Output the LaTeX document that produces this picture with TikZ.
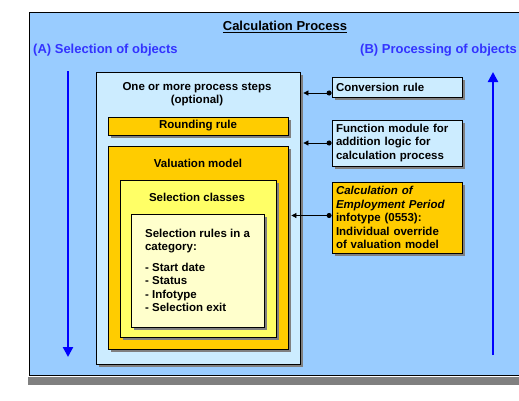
\documentclass[tikz,border=0pt]{standalone}
\usepackage{fontspec}
\setmainfont{Liberation Sans}
\usetikzlibrary{shapes,arrows.meta,positioning,calc,shadows}

\definecolor{skyblue}{RGB}{153,204,255}
\definecolor{paleblue}{RGB}{204,236,255}
\definecolor{gold}{RGB}{255,204,0}
\definecolor{lemon}{RGB}{255,255,102}
\definecolor{cream}{RGB}{255,255,204}
\definecolor{headblue}{RGB}{51,51,255}
\definecolor{flowblue}{RGB}{0,0,255}

\begin{document}
\begin{tikzpicture}[
    x=1pt, y=-1pt,
    every node/.style={font=\fontsize{11.5}{13.5}\selectfont\bfseries},
    boxshadow/.style={general shadow={fill=black!50, shadow xshift=3pt, shadow yshift=-3pt}},
    frame/.style={rectangle, draw=black, fill=skyblue, line width=0.8pt},
    stepbox/.style={rectangle, draw=black, fill=paleblue, line width=0.8pt, boxshadow},
    rulebox/.style={rectangle, draw=black, fill=gold, line width=0.8pt, boxshadow},
    classbox/.style={rectangle, draw=black, fill=lemon, line width=0.8pt, boxshadow},
    selbox/.style={rectangle, draw=black, fill=cream, line width=0.8pt, boxshadow, align=left},
    note/.style={rectangle, draw=black, line width=0.8pt, boxshadow, text width=122pt, inner xsep=4pt, inner ysep=0pt, align=left},
    heading/.style={font=\fontsize{13}{15}\selectfont\bfseries, text=headblue, anchor=west, inner sep=0pt},
    flow/.style={-{Triangle[length=10pt,width=10pt]}, line width=2.2pt, draw=flowblue},
    link/.style={{Circle[length=5pt]}-{Triangle[length=5pt,width=5pt]}, line width=0.8pt}
]
\path[use as bounding box, fill=white] (0,0) rectangle (519,400);

% Outer frame
\fill[black!50] (28,377) rectangle (530,385);
\node[frame, minimum width=501pt, minimum height=363pt] (frame) at (279.5,193.5) {};

% Title and headings
\node[font=\fontsize{13}{15}\selectfont\bfseries] (title) at (285,27) {\underline{Calculation Process}};
\node[heading] (hsel) at (33,50) {(A) Selection of objects};
\node[heading] (hproc) at (360,50) {(B) Processing of objects};

% Direction arrows
\coordinate (seltop) at (68,71);
\coordinate (selend) at (68,357);
\coordinate (procbot) at (493,355);
\coordinate (proctop) at (493,72);
\draw[flow] (seltop) -- (selend);
\draw[flow] (procbot) -- (proctop);

% Nested boxes
\node[stepbox, minimum width=204pt, minimum height=292pt] (proc) at (198,218) {};
\node (proct) at (197,94) [align=center] {One or more process steps\\(optional)};
\node[rulebox, minimum width=180pt, minimum height=18pt, inner sep=0pt] (round) at (198,126) {Rounding rule};
\node[rulebox, minimum width=180pt, minimum height=203pt] (valm) at (198,247.5) {};
\node (valt) at (198,163) {Valuation model};
\node[classbox, minimum width=156pt, minimum height=157pt] (cls) at (198,258.5) {};
\node (clst) at (197,197) {Selection classes};
\node[selbox, minimum width=133pt, minimum height=113pt] (sel) at (197.5,270.5)
    {Selection rules in a\\category:\\[7pt]- Start date\\- Status\\- Infotype\\- Selection exit};

% Rules on the right
\node[note, fill=paleblue, minimum height=20pt] (conv) at (397,87) {Conversion rule};
\node[note, fill=paleblue, minimum height=46pt] (func) at (397,143)
    {Function module for\\addition logic for\\calculation process};
\node[note, fill=gold, minimum height=71pt] (calc) at (397,217.5)
    {\textit{Calculation of}\\\textit{Employment Period}\\infotype (0553):\\Individual override\\of valuation model};

% Connectors
\draw[link] ($(conv.west)+(0,6)$) -- ($(conv.west -| proc.east)+(3,6)$);
\draw[link] (func.west) -- ($(func.west -| proc.east)+(3,0)$);
\draw[link] ($(calc.west)+(0,-2)$) -- ($(calc.west -| valm.east)+(3,-2)$);

\end{tikzpicture}
\end{document}
